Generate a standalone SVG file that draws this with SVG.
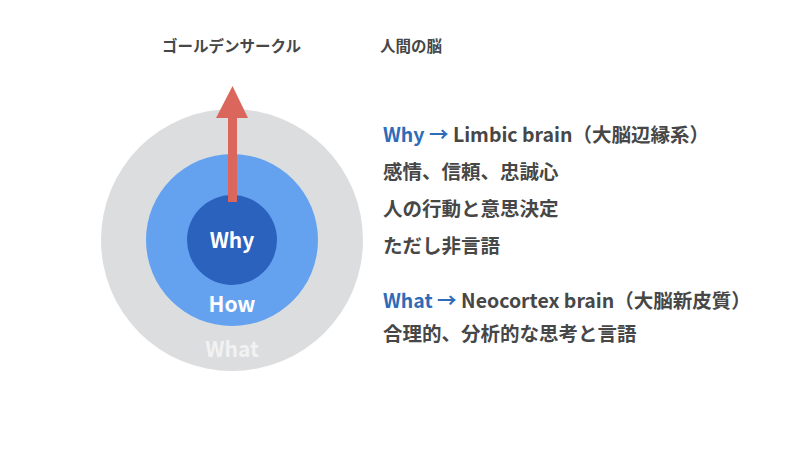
<svg xmlns="http://www.w3.org/2000/svg" width="800" height="450" viewBox="0 0 800 450">
  <style>
    text { font-family: "Noto Sans CJK JP", "Noto Sans", sans-serif; font-weight: 700; }
    .hdr { font-size: 15.5px; fill: #474747; }
    .body { font-size: 19.5px; fill: #474747; }
    .key { fill: #2E6BB8; }
    .lbl { font-size: 21px; text-anchor: middle; }
  </style>
  <rect width="800" height="450" fill="#ffffff"/>
  <g id="headers">
    <text class="hdr" x="162" y="52">ゴールデンサークル</text>
    <text class="hdr" x="380" y="52">人間の脳</text>
  </g>
  <g id="what-circle">
    <circle cx="232" cy="240" r="131" fill="#DCDDDF"/>
    <text class="lbl" x="232" y="357" fill="#F2F2F2">What</text>
  </g>
  <g id="how-circle">
    <circle cx="232" cy="240" r="86" fill="#64A2F0"/>
    <text class="lbl" x="232" y="312" fill="#FFFFFF">How</text>
  </g>
  <g id="why-circle">
    <circle cx="232" cy="240" r="45" fill="#2A62BD"/>
    <text class="lbl" x="232" y="248" fill="#FFFFFF">Why</text>
  </g>
  <g id="connectors">
    <rect x="228" y="116" width="9" height="86" fill="#DB675C"/>
    <polygon points="232.5,86 248,118 216,118" fill="#DB675C"/>
  </g>
  <g id="limbic">
    <text class="body" x="383" y="142"><tspan class="key">Why →</tspan> Limbic brain（大脳辺縁系）</text>
    <text class="body" x="383" y="179">感情、信頼、忠誠心</text>
    <text class="body" x="383" y="216">人の行動と意思決定</text>
    <text class="body" x="383" y="253">ただし非言語</text>
  </g>
  <g id="neocortex">
    <text class="body" x="383" y="308"><tspan class="key">What →</tspan> Neocortex brain（大脳新皮質）</text>
    <text class="body" x="383" y="341">合理的、分析的な思考と言語</text>
  </g>
</svg>
